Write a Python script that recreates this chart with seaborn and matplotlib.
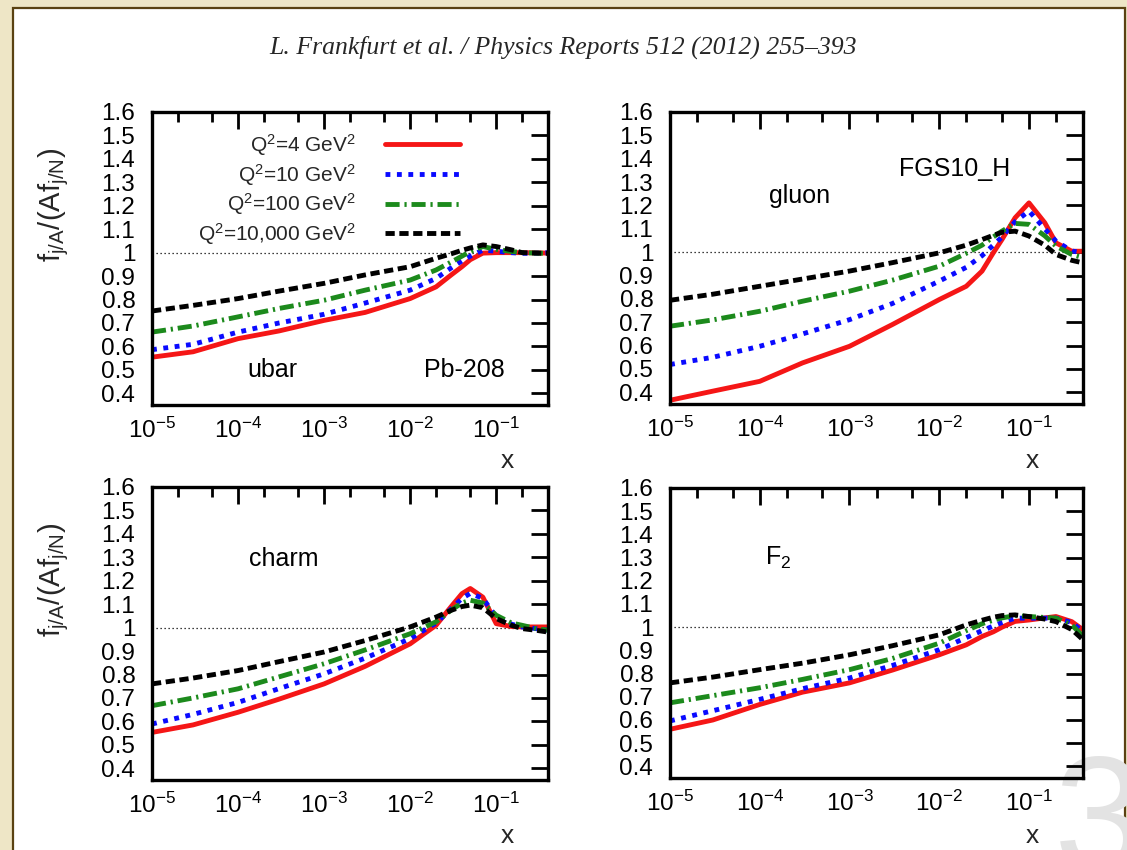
import numpy as np
import pandas as pd
import matplotlib
matplotlib.use("Agg")
import matplotlib.pyplot as plt
from matplotlib.patches import Rectangle
from matplotlib.ticker import FixedLocator, NullLocator
import seaborn as sns

# ---------------------------------------------------------------- data
X_VALUES = [1e-5, 3e-5, 1e-4, 3e-4, 1e-3, 3e-3, 1e-2, 2e-2, 3e-2, 4e-2,
            5e-2, 7e-2, 0.1, 0.15, 0.2, 0.3, 0.4]

Q2_LABELS = ["Q$^2$=4 GeV$^2$", "Q$^2$=10 GeV$^2$",
             "Q$^2$=100 GeV$^2$", "Q$^2$=10,000 GeV$^2$"]

# ubar
UBAR_Q4 = [0.554, 0.577, 0.633, 0.666, 0.711, 0.745, 0.804, 0.854, 0.905, 0.940,
           0.970, 0.998, 1.000, 1.000, 1.000, 0.999, 0.998]
UBAR_Q10 = [0.586, 0.609, 0.661, 0.700, 0.737, 0.785, 0.840, 0.890, 0.935, 0.965,
            0.985, 1.011, 1.006, 1.000, 0.997, 0.998, 1.000]
UBAR_Q100 = [0.661, 0.687, 0.726, 0.762, 0.797, 0.840, 0.883, 0.926, 0.960, 0.985,
             1.005, 1.026, 1.014, 1.005, 1.000, 0.998, 0.997]
UBAR_Q10000 = [0.751, 0.775, 0.804, 0.836, 0.869, 0.905, 0.940, 0.976, 0.995, 1.010,
               1.020, 1.033, 1.026, 1.012, 1.000, 0.998, 0.997]

# gluon
GLUON_Q4 = [0.366, 0.405, 0.447, 0.526, 0.597, 0.690, 0.797, 0.854, 0.919, 0.997,
            1.054, 1.147, 1.211, 1.126, 1.040, 1.004, 1.004]
GLUON_Q10 = [0.519, 0.550, 0.597, 0.650, 0.711, 0.780, 0.876, 0.935, 0.985, 1.030,
             1.065, 1.130, 1.176, 1.100, 1.047, 1.005, 0.997]
GLUON_Q100 = [0.683, 0.710, 0.747, 0.790, 0.833, 0.880, 0.940, 0.995, 1.030, 1.065,
              1.090, 1.123, 1.119, 1.070, 1.026, 0.990, 0.976]
GLUON_Q10000 = [0.794, 0.820, 0.854, 0.885, 0.919, 0.955, 0.997, 1.030, 1.054, 1.072,
                1.085, 1.090, 1.069, 1.030, 0.990, 0.965, 0.954]

# charm
CHARM_Q4 = [0.553, 0.585, 0.639, 0.695, 0.760, 0.835, 0.931, 1.010, 1.090, 1.145,
            1.167, 1.130, 1.017, 1.005, 1.003, 1.003, 1.003]
CHARM_Q10 = [0.589, 0.630, 0.681, 0.740, 0.803, 0.870, 0.953, 1.020, 1.080, 1.125,
             1.146, 1.125, 1.046, 1.015, 1.003, 0.995, 0.989]
CHARM_Q100 = [0.667, 0.700, 0.739, 0.790, 0.846, 0.905, 0.974, 1.025, 1.075, 1.105,
              1.117, 1.105, 1.053, 1.020, 1.010, 0.995, 0.989]
CHARM_Q10000 = [0.760, 0.785, 0.817, 0.855, 0.896, 0.945, 1.003, 1.045, 1.074, 1.090,
                1.096, 1.085, 1.039, 1.010, 0.996, 0.988, 0.981]

# F2
F2_Q4 = [0.560, 0.600, 0.667, 0.720, 0.760, 0.815, 0.881, 0.924, 0.960, 0.980,
         1.000, 1.025, 1.031, 1.040, 1.046, 1.024, 0.989]
F2_Q10 = [0.596, 0.640, 0.689, 0.735, 0.781, 0.835, 0.903, 0.955, 0.985, 1.005,
          1.020, 1.039, 1.039, 1.039, 1.039, 1.020, 0.981]
F2_Q100 = [0.674, 0.705, 0.739, 0.775, 0.817, 0.865, 0.931, 0.985, 1.015, 1.030,
           1.040, 1.050, 1.046, 1.042, 1.039, 1.010, 0.960]
F2_Q10000 = [0.760, 0.785, 0.817, 0.845, 0.881, 0.920, 0.967, 1.010, 1.030, 1.043,
             1.050, 1.053, 1.046, 1.035, 1.024, 0.990, 0.946]

X_TICKS = [1e-5, 1e-4, 1e-3, 1e-2, 1e-1]
X_TICK_LABELS = ["$10^{-5}$", "$10^{-4}$", "$10^{-3}$", "$10^{-2}$", "$10^{-1}$"]
Y_TICKS = [0.4, 0.5, 0.6, 0.7, 0.8, 0.9, 1.0, 1.1, 1.2, 1.3, 1.4, 1.5, 1.6]
Y_TICK_LABELS = ["0.4", "0.5", "0.6", "0.7", "0.8", "0.9", "1",
                 "1.1", "1.2", "1.3", "1.4", "1.5", "1.6"]

TITLE = "L. Frankfurt et al. / Physics Reports 512 (2012) 255\u2013393"
Y_LABEL = "f$_{j/A}$/(Af$_{j/N}$)"

# ---------------------------------------------------------------- style
sns.set_style("white")
plt.rcParams["font.family"] = ["Liberation Sans", "DejaVu Sans"]
plt.rcParams["mathtext.fontset"] = "custom"
plt.rcParams["mathtext.rm"] = "Liberation Sans"
plt.rcParams["mathtext.it"] = "Liberation Sans:italic"
plt.rcParams["mathtext.default"] = "regular"

PALETTE = dict(zip(Q2_LABELS, ["#f51616", "#0a0aff", "#1c8a1c", "#000000"]))
DASHES = dict(zip(Q2_LABELS, ["", (1.0, 1.35), (2.9, 1.0, 0.45, 1.0), (1.9, 0.95)]))

W, H = 1127, 850
fig = plt.figure(figsize=(W / 100, H / 100), dpi=100)
fig.patch.set_facecolor("#eee6c6")


def fig_box(left, top, right, bottom):
    return [left / W, 1 - bottom / H, (right - left) / W, (bottom - top) / H]


def fig_xy(x, y):
    return x / W, 1 - y / H


# white page with a thin brown frame
fig.add_artist(Rectangle((12.5 / W, -0.02), (1125 - 12.5) / W, 1.02 - 8 / H,
                         transform=fig.transFigure, facecolor="white",
                         edgecolor="#5a4212", linewidth=1.6, zorder=-3))
# large grey page digit in the corner
fig.text(*fig_xy(1054, 870), "3", fontsize=118, color="#e3e3e3",
         ha="left", va="baseline", zorder=-2)

fig.text(*fig_xy(563, 47), TITLE, ha="center", va="center", fontsize=18.5,
         style="italic", family=["Liberation Serif", "DejaVu Serif"])


def draw_panel(box, series, legend=False):
    ax = fig.add_axes(box)
    ax.set_facecolor("none")
    frames = [pd.DataFrame({"x": X_VALUES, "ratio": vals, "Q2": lab})
              for lab, vals in zip(Q2_LABELS, series)]
    df = pd.concat(frames, ignore_index=True)
    sns.lineplot(data=df, x="x", y="ratio", hue="Q2", style="Q2",
                 hue_order=Q2_LABELS, style_order=Q2_LABELS,
                 palette=PALETTE, dashes=DASHES, estimator=None,
                 linewidth=3.5, legend=False, ax=ax)
    curves = list(ax.get_lines())
    ax.axhline(1.0, color="black", linewidth=0.9, linestyle=(0, (1, 2.2)), zorder=1.5)

    ax.set_xscale("log")
    ax.set_xlim(1e-5, 0.4)
    ax.set_ylim(0.35, 1.6)
    ax.set_xlabel("")
    ax.set_ylabel("")
    ax.set_xticks(X_TICKS)
    ax.set_xticklabels(X_TICK_LABELS)
    minors = [m * 10.0 ** e for e in range(-5, 0) for m in (2, 5)]
    ax.xaxis.set_minor_locator(FixedLocator([v for v in minors if v < 0.4]))
    ax.set_yticks(Y_TICKS)
    ax.set_yticklabels(Y_TICK_LABELS)
    ax.yaxis.set_minor_locator(NullLocator())
    ax.tick_params(which="both", direction="in", top=True, right=True,
                   width=2.0, color="black", labelsize=17.5, labelcolor="black")
    ax.tick_params(which="major", length=12)
    ax.tick_params(which="minor", length=7)
    ax.tick_params(axis="x", which="major", pad=9)
    ax.tick_params(axis="y", which="major", pad=12)
    for sp in ax.spines.values():
        sp.set_visible(True)
        sp.set_linewidth(2.4)
        sp.set_color("black")

    if legend:
        ax.legend(curves, Q2_LABELS, loc="upper right",
                  bbox_to_anchor=((460 - 152) / 396, (405 - 132) / 293),
                  frameon=False, markerfirst=False, fontsize=15,
                  handlelength=3.6, handletextpad=1.4, labelspacing=0.18,
                  borderpad=0, borderaxespad=0)
    return ax


ax_ubar = draw_panel(fig_box(152, 112, 548, 405),
                     [UBAR_Q4, UBAR_Q10, UBAR_Q100, UBAR_Q10000], legend=True)
ax_gluon = draw_panel(fig_box(670, 112, 1083, 404),
                      [GLUON_Q4, GLUON_Q10, GLUON_Q100, GLUON_Q10000])
ax_charm = draw_panel(fig_box(152, 487, 548, 780),
                      [CHARM_Q4, CHARM_Q10, CHARM_Q100, CHARM_Q10000])
ax_f2 = draw_panel(fig_box(670, 488, 1083, 778),
                   [F2_Q4, F2_Q10, F2_Q100, F2_Q10000])

# panel annotations
note = dict(fontsize=18, color="black", va="baseline")
fig.text(*fig_xy(272, 377), "ubar", ha="center", **note)
fig.text(*fig_xy(464, 377), "Pb-208", ha="center", **note)
fig.text(*fig_xy(800, 203), "gluon", ha="center", **note)
fig.text(*fig_xy(955, 176), "FGS10_H", ha="center", **note)
fig.text(*fig_xy(284, 566), "charm", ha="center", **note)
fig.text(*fig_xy(765, 565), "F$_2$", ha="left", **note)

# axis titles
for y in (205, 580):
    fig.text(*fig_xy(54, y), Y_LABEL, rotation=90, ha="center", va="center",
             fontsize=21)
for x, y in ((507, 468), (1032, 468), (507, 843), (1032, 843)):
    fig.text(*fig_xy(x, y), "x", ha="center", va="baseline", fontsize=19)

fig.savefig("out.png", dpi=100, facecolor=fig.get_facecolor())
